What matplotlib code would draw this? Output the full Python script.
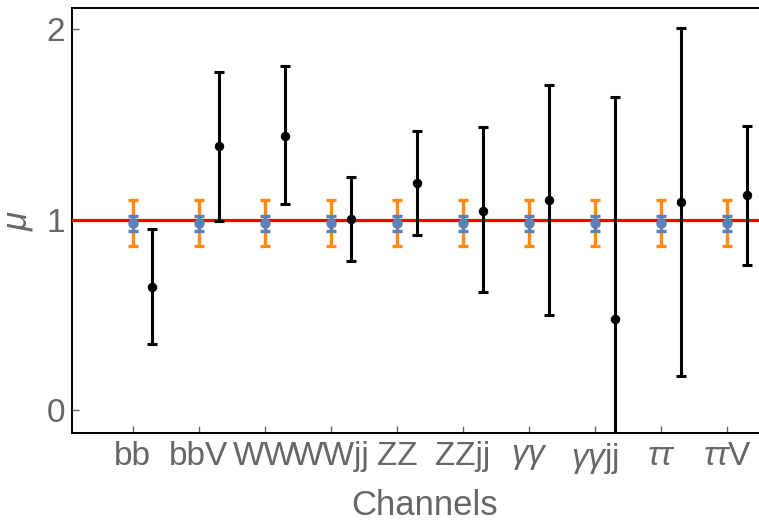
import numpy as np
import matplotlib
matplotlib.use('Agg')
from matplotlib import pyplot as plt

plt.rcParams['font.family'] = ['Liberation Sans', 'DejaVu Sans']
plt.rcParams['mathtext.fontset'] = 'custom'
plt.rcParams['mathtext.rm'] = 'Liberation Sans'
plt.rcParams['mathtext.it'] = 'Liberation Sans:italic'

# channels and signal strengths
channels = ['bb', 'bbV', 'WW', 'WWjj', 'ZZ', 'ZZjj',
            r'$\gamma\gamma$', r'$\gamma\gamma$jj', r'$\tau\tau$', r'$\tau\tau$V']
sm_mu = [0.98, 0.98, 0.98, 0.98, 0.98, 0.98, 0.98, 0.98, 0.98, 0.98]
sm_err_wide = [0.12, 0.12, 0.12, 0.12, 0.12, 0.12, 0.12, 0.12, 0.12, 0.12]
sm_err_narrow = [0.04, 0.04, 0.04, 0.04, 0.04, 0.04, 0.04, 0.04, 0.04, 0.04]
obs_mu = [0.646, 1.385, 1.441, 1.005, 1.194, 1.047, 1.105, 0.478, 1.094, 1.127]
obs_hi = [0.951, 1.774, 1.804, 1.224, 1.463, 1.483, 1.705, 1.643, 2.007, 1.490]
obs_lo = [0.349, 0.993, 1.082, 0.781, 0.921, 0.620, 0.499, -0.69, 0.179, 0.762]

gray = '#666666'
x = np.arange(1, len(channels) + 1)
obs_mu = np.array(obs_mu)
yerr_obs = [obs_mu - np.array(obs_lo), np.array(obs_hi) - obs_mu]

fig = plt.figure(figsize=(7.59, 5.27), dpi=100)
ax = fig.add_axes([72 / 759, 1 - 433 / 527, 705 / 759, 425 / 527])

# expected (orange wide band, blue narrow)
ax.errorbar(x, sm_mu, yerr=sm_err_wide, fmt='none', ecolor='#FF8A14',
            elinewidth=2.4, capsize=3.3, capthick=2.4, zorder=2)
ax.axhline(1, color='#FF0000', lw=2.3, zorder=3)
ax.errorbar(x, sm_mu, yerr=sm_err_narrow, fmt='o', color='#5E81B5', ms=6.5,
            ecolor='#5E81B5', elinewidth=2.4, capsize=3.3, capthick=2.4, zorder=4)

# measured
ax.errorbar(x + 0.3, obs_mu, yerr=yerr_obs, fmt='o', color='black', ms=5.8,
            ecolor='black', elinewidth=2.2, capsize=3.3, capthick=2.2, zorder=5)

ax.set_xlim(0.082, 10.75)
ax.set_ylim(-0.12, 2.11)
ax.set_xticks(x)
ax.set_xticklabels(channels)
ax.set_yticks([0, 1, 2])

ax.tick_params(direction='in', length=5, width=1, color=gray, labelcolor=gray,
               labelsize=24)
ax.tick_params(axis='x', pad=6)
ax.tick_params(axis='y', pad=5)

for s in ['left', 'bottom', 'top']:
    ax.spines[s].set_linewidth(1.4)
    ax.spines[s].set_color('black')
ax.spines['right'].set_visible(False)

ax.set_xlabel('Channels', fontsize=25, color=gray)
ax.set_ylabel(r'$\mu$', fontsize=25, color=gray)
ax.xaxis.set_label_coords(0.5, -0.132)
ax.yaxis.set_label_coords(-0.0525, 0.5)

fig.savefig('out.png', dpi=100)
